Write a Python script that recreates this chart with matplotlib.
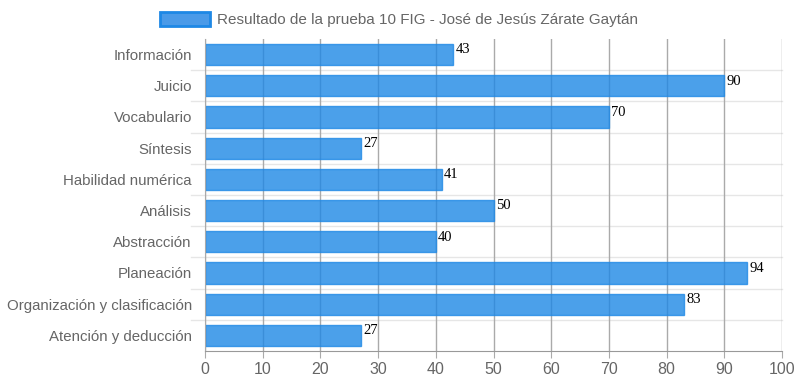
import matplotlib.pyplot as plt
from matplotlib.patches import Patch

categorias = ['Información', 'Juicio', 'Vocabulario', 'Síntesis', 'Habilidad numérica',
              'Análisis', 'Abstracción', 'Planeación', 'Organización y clasificación',
              'Atención y deducción']
valores = [43, 90, 70, 27, 41, 50, 40, 94, 83, 27]
xticks = list(range(0, 101, 10))
etiqueta = 'Resultado de la prueba 10 FIG - José de Jesús Zárate Gaytán'

plt.rcParams['font.family'] = ['Liberation Sans', 'DejaVu Sans']

fig = plt.figure(figsize=(7.98, 3.85), dpi=100)
ax = fig.add_axes([205 / 798, 1 - 351 / 385, 577 / 798, 312 / 385])

pos = list(range(len(categorias)))
ax.barh(pos, valores, height=0.68, color='#1e88e5', alpha=0.8,
        edgecolor='#1e88e5', linewidth=1, zorder=2)

for p, v in zip(pos, valores):
    ax.text(v + 0.4, p - 0.15, str(v), fontsize=10.5, family='Liberation Serif',
            color='black', va='center', ha='left', zorder=3)

ax.set_xlim(0, 100)
ax.set_ylim(len(categorias) - 0.5, -0.5)
ax.set_xticks(xticks)
ax.set_yticks(pos)
ax.set_yticklabels(categorias)
ax.tick_params(axis='x', colors='#aaaaaa', labelcolor='#666666', labelsize=11.5,
               length=5, pad=3)
ax.tick_params(axis='y', length=0, labelcolor='#666666', labelsize=10.8, pad=9.4)

# vertical grid
ax.grid(axis='x', color='#aaaaaa', linewidth=1, zorder=1)
ax.set_axisbelow(True)
# horizontal grid between categories
for b in [p + 0.5 for p in pos[:-1]]:
    ax.plot([-0.025, 1], [b, b], transform=ax.get_yaxis_transform(), color='#e6e6e6',
            linewidth=1, clip_on=False, zorder=0)

for s in ['top', 'right']:
    ax.spines[s].set_visible(False)
ax.spines['left'].set_color('#aaaaaa')
ax.spines['bottom'].set_color('#999999')

leg_handle = Patch(facecolor='#4a9ae8', edgecolor='#1e88e5', linewidth=2)
fig.legend([leg_handle], [etiqueta], loc='upper center', bbox_to_anchor=(0.5, 1.005),
           frameon=False, fontsize=11, labelcolor='#666666', handlelength=3.3,
           handleheight=1.1, handletextpad=0.45)

fig.savefig('out.png', dpi=100)
